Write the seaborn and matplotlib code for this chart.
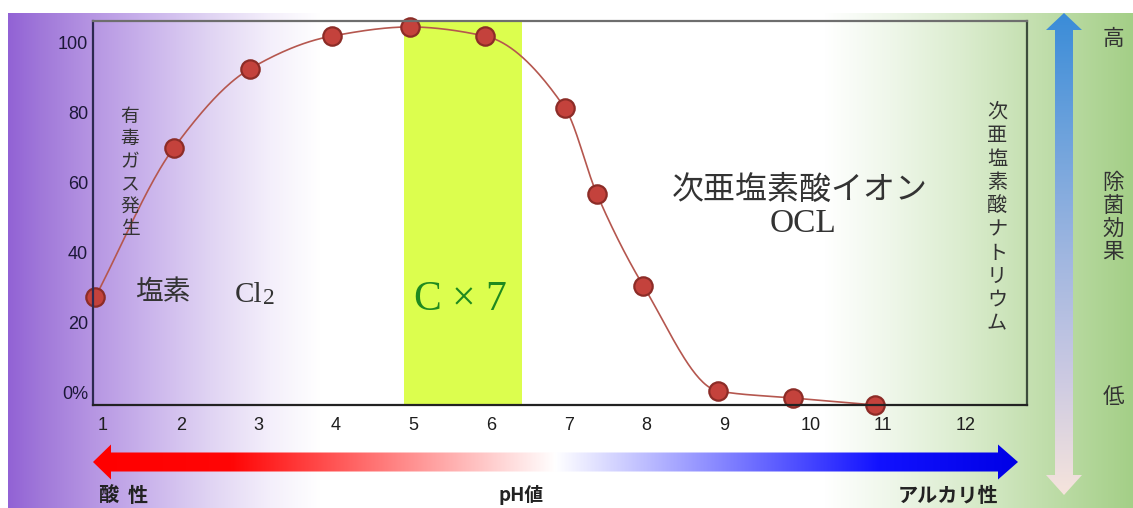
import numpy as np
import pandas as pd
import matplotlib
matplotlib.use("Agg")
import matplotlib.pyplot as plt
from matplotlib.patches import Polygon
import matplotlib.colors as mcolors
import seaborn as sns

# ---------------- data ----------------
ph_values = [0.90, 1.91, 2.89, 3.95, 4.95, 5.92, 6.95, 7.36, 7.96, 8.92, 9.88, 10.94]
effect_values = [27.1, 69.7, 92.3, 101.7, 104.3, 101.7, 81.1, 56.6, 30.3, 0.3, -1.7, -3.7]
x_ticks = [1, 2, 3, 4, 5, 6, 7, 8, 9, 10.12, 11.05, 12.11]
x_tick_labels = ["1", "2", "3", "4", "5", "6", "7", "8", "9", "10", "11", "12"]
y_ticks = [0, 20, 40, 60, 80, 100]
y_tick_labels = ["0%", "20", "40", "60", "80", "100"]
band_range = [4.87, 6.39]

sns.set_theme(style="white")
CJK = ["Noto Sans CJK JP", "DejaVu Sans"]
SERIF = ["Liberation Serif", "DejaVu Serif"]
plt.rcParams["font.family"] = CJK

W, H = 1133, 508
fig = plt.figure(figsize=(W / 100, H / 100), dpi=100)
fig.patch.set_facecolor("white")


def ptext(x, y, s, **kw):
    return fig.text(x / W, 1 - y / H, s, **kw)


def gradient(stops, n):
    pos = np.array([p for p, _ in stops], dtype=float)
    cols = np.array([mcolors.to_rgb(c) for _, c in stops])
    t = np.linspace(pos[0], pos[-1], n)
    return np.stack([np.interp(t, pos, cols[:, k]) for k in range(3)], axis=-1)


# ---------------- background layer ----------------
bg = fig.add_axes([0, 0, 1, 1], zorder=0)
bg.axis("off")
bg_stops = [(8, "#9262d5"), (40, "#a078d9"), (90, "#b594e2"), (150, "#cbb5ec"),
            (210, "#e0d4f3"), (270, "#f4effb"), (320, "#ffffff"), (825, "#ffffff"),
            (890, "#eff7ea"), (960, "#dcedd0"), (1030, "#c5e0b1"), (1133, "#a4cf87")]
bg_img = gradient(bg_stops, 1126)[None, :, :]
bg.imshow(bg_img, extent=(8, W, H, 13), aspect="auto", interpolation="bilinear")

# horizontal pH arrow
harrow = Polygon([(93, 462), (111, 444.5), (111, 452.5), (998, 452.5), (998, 444.5),
                  (1018, 462), (998, 479.5), (998, 471.5), (111, 471.5), (111, 479.5)],
                 closed=True, facecolor="none", edgecolor="none", transform=bg.transData)
bg.add_patch(harrow)
h_stops = [(0, "#ff0000"), (0.15, "#ff0606"), (0.5, "#ffffff"), (0.85, "#1212ff"), (1.0, "#0000e6")]
him = bg.imshow(gradient(h_stops, 600)[None, :, :], extent=(93, 1018, 480, 444),
                aspect="auto", interpolation="bilinear")
him.set_clip_path(harrow)

# vertical effect arrow
varrow = Polygon([(1064, 13), (1082, 30), (1073, 30), (1073, 475), (1082, 475),
                  (1064, 495), (1046, 475), (1055, 475), (1055, 30), (1046, 30)],
                 closed=True, facecolor="none", edgecolor="none", transform=bg.transData)
bg.add_patch(varrow)
v_stops = [(0, "#3a8cd8"), (0.25, "#6da2dc"), (0.5, "#9fb6e0"), (0.75, "#cbc9e2"), (1.0, "#f6e4dc")]
vim = bg.imshow(gradient(v_stops, 400)[:, None, :], extent=(1046, 1082, 495, 13),
                aspect="auto", interpolation="bilinear")
vim.set_clip_path(varrow)
bg.set_xlim(0, W)
bg.set_ylim(H, 0)

# ---------------- main chart ----------------
ax = fig.add_axes([93 / W, 1 - 405 / H, (1027 - 93) / W, (405 - 21) / H], zorder=1)
ax.patch.set_alpha(0)

ax.axvspan(band_range[0], band_range[1], color="#dcfe4e", zorder=1, lw=0)


def monotone_curve(xs, ys, n=40):
    """Smooth monotone (Fritsch-Carlson) cubic drawn through the data points."""
    x = np.asarray(xs, float)
    y = np.asarray(ys, float)
    h = np.diff(x)
    d = np.diff(y) / h
    m = np.zeros_like(x)
    m[0], m[-1] = d[0], d[-1]
    for k in range(1, len(x) - 1):
        if d[k - 1] * d[k] <= 0:
            m[k] = 0.0
        else:
            w1 = 2 * h[k] + h[k - 1]
            w2 = h[k] + 2 * h[k - 1]
            m[k] = (w1 + w2) / (w1 / d[k - 1] + w2 / d[k])
    cx, cy = [], []
    for k in range(len(x) - 1):
        t = np.linspace(0, 1, n, endpoint=False)
        h00 = 2 * t ** 3 - 3 * t ** 2 + 1
        h10 = t ** 3 - 2 * t ** 2 + t
        h01 = -2 * t ** 3 + 3 * t ** 2
        h11 = t ** 3 - t ** 2
        cx.append(x[k] + t * h[k])
        cy.append(h00 * y[k] + h10 * h[k] * m[k] + h01 * y[k + 1] + h11 * h[k] * m[k + 1])
    cx.append([x[-1]])
    cy.append([y[-1]])
    return np.concatenate(cx), np.concatenate(cy)


cxs, cys = monotone_curve(ph_values, effect_values)
curve_df = pd.DataFrame({"pH": cxs, "effect": cys})
sns.lineplot(data=curve_df, x="pH", y="effect", sort=False, estimator=None, color="#b5574f",
             lw=1.2, ax=ax, zorder=3)

pts = pd.DataFrame({"pH": ph_values, "effect": effect_values})
sns.scatterplot(data=pts, x="pH", y="effect", s=175, color="#c4423c", edgecolor="#8c2c27",
                linewidth=1.6, ax=ax, zorder=4, clip_on=False)

ax.set_xlim(0.871, 12.90)
ax.set_ylim(-3.71, 106.0)
ax.set_xticks(x_ticks)
ax.set_xticklabels(x_tick_labels)
ax.set_yticks(y_ticks)
ax.set_yticklabels(y_tick_labels)
ax.set_xlabel("")
ax.set_ylabel("")
ax.tick_params(axis="both", length=0)
ax.tick_params(axis="x", pad=9, labelsize=13, labelcolor="#1e1e1e")
ax.tick_params(axis="y", pad=3.5, labelsize=13, labelcolor="#1c1838")
for lab in ax.get_xticklabels() + ax.get_yticklabels():
    lab.set_fontfamily(["Liberation Sans", "DejaVu Sans"])
spine_cols = {"left": "#2d2950", "bottom": "#222222", "top": "#6e6e6e", "right": "#3d4d3d"}
for k, sp in ax.spines.items():
    sp.set_visible(True)
    sp.set_color(spine_cols[k])
    sp.set_linewidth(1.6)
    sp.set_zorder(5)

# ---------------- annotations ----------------
TXT = "#333333"
ptext(130, 106, "\n".join("有毒ガス発生"), ha="center", va="top", fontsize=13.5,
      linespacing=1.09, color=TXT, family=CJK)
ptext(135, 292, "塩素", ha="left", va="center", fontsize=20, color=TXT, family=CJK)
ptext(235, 302, "Cl", ha="left", va="baseline", fontsize=21, color=TXT, family=SERIF)
ptext(263, 304, "2", ha="left", va="baseline", fontsize=17, color=TXT, family=SERIF)
ptext(460, 300, "C × 7", ha="center", va="center", fontsize=30, color="#1f8a1f", family=SERIF)
ptext(800, 190, "次亜塩素酸イオン", ha="center", va="center", fontsize=23, color=TXT, family=CJK)
ptext(803, 224, "OCL", ha="center", va="center", fontsize=24, color=TXT, family=SERIF)
ptext(997, 102, "\n".join("次亜塩素酸ナトリウム"), ha="center", va="top", fontsize=14.5,
      linespacing=1.155, color=TXT, family=CJK)
ptext(1113, 39, "高", ha="center", va="center", fontsize=15.5, color=TXT, family=CJK)
ptext(1113, 172, "\n".join("除菌効果"), ha="center", va="top", fontsize=15.5,
      linespacing=1.06, color=TXT, family=CJK)
ptext(1113, 397, "低", ha="center", va="center", fontsize=15.5, color=TXT, family=CJK)

ptext(98, 495, "酸", ha="left", va="center", fontsize=14.5, color="#222222",
      family=CJK, fontweight="bold")
ptext(128, 495, "性", ha="left", va="center", fontsize=14.5, color="#222222",
      family=CJK, fontweight="bold")
ptext(521, 495, "pH値", ha="center", va="center", fontsize=13.5, color="#222222",
      family=CJK, fontweight="bold")
ptext(998, 495, "アルカリ性", ha="right", va="center", fontsize=14.5, color="#222222",
      family=CJK, fontweight="bold")

fig.savefig("out.png", dpi=100)
